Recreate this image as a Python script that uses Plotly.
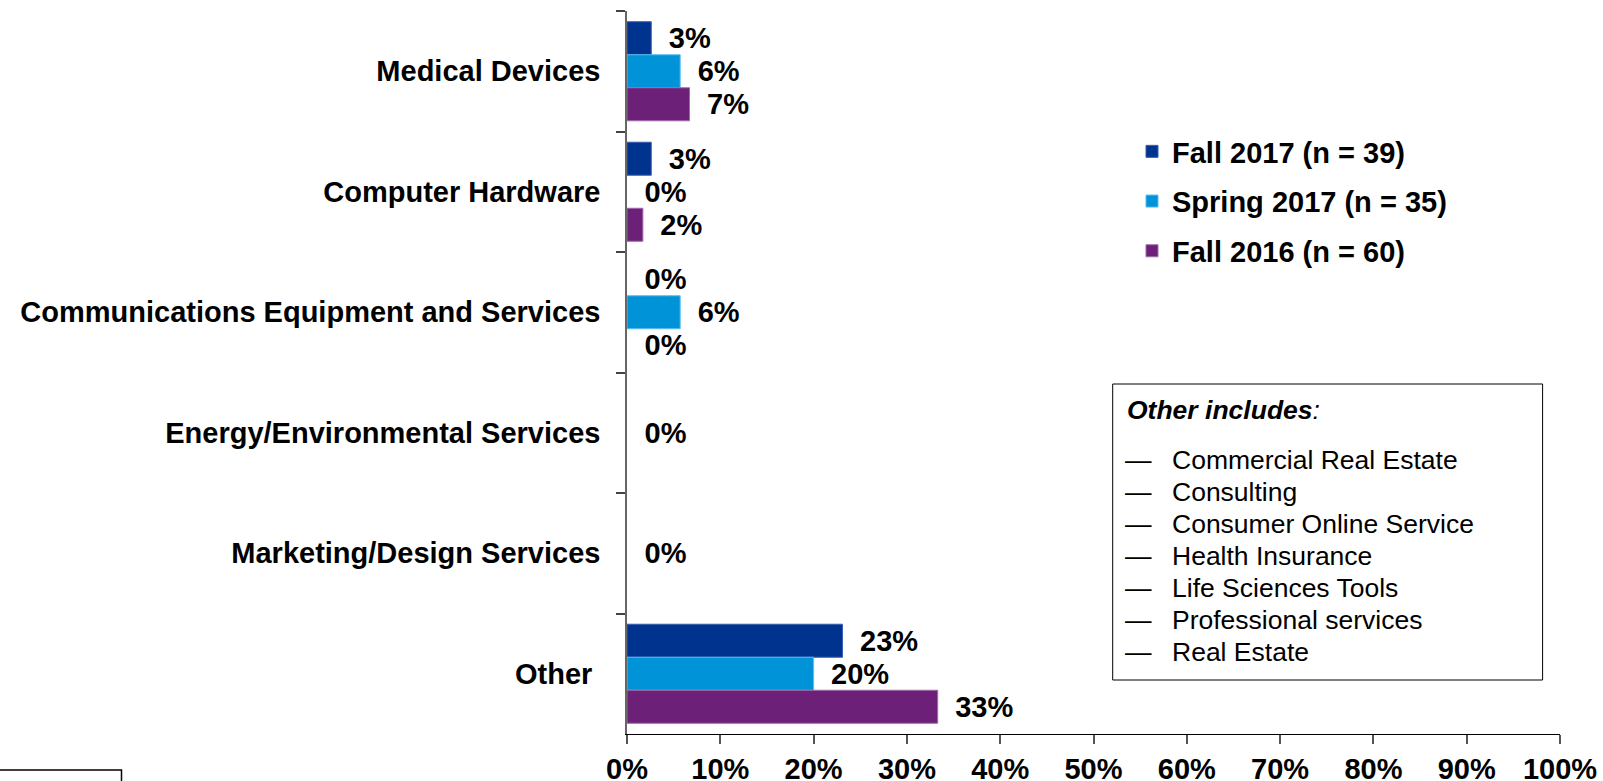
import plotly.graph_objects as go

# ---- data ----
categories = ["Medical Devices", "Computer Hardware", "Communications Equipment and Services",
              "Energy/Environmental Services", "Marketing/Design Services", "Other"]
series_names = ["Fall 2017 (n = 39)", "Spring 2017 (n = 35)", "Fall 2016 (n = 60)"]
fall_2017 = [2.6, 2.6, 0.0, None, None, 23.1]
spring_2017 = [5.7, 0.0, 5.7, 0.0, 0.0, 20.0]
fall_2016 = [6.7, 1.7, 0.0, None, None, 33.3]
series_values = [fall_2017, spring_2017, fall_2016]
series_colors = ["#00338D", "#0093D8", "#6D2077"]
series_edges = ["#3A5FAE", "#5CBDF0", "#A06AAA"]
x_tick_vals = [0, 10, 20, 30, 40, 50, 60, 70, 80, 90, 100]
x_tick_text = ["0%", "10%", "20%", "30%", "40%", "50%", "60%", "70%", "80%", "90%", "100%"]
other_title = "Other includes"
other_items = ["Commercial Real Estate", "Consulting", "Consumer Online Service", "Health Insurance",
               "Life Sciences Tools", "Professional services", "Real Estate"]

# ---- layout geometry (pixels) ----
W, H = 1603, 781
L, R, T, B = 627, 43, 11, 47
PW, PH = W - L - R, H - T - B
FONT = "Arial, Liberation Sans, sans-serif"
BIG = 29
SMALL = 26.5


def px(xp):
    return (xp - L) / PW


def py(yp):
    return (H - B - yp) / PH


cat_labels = {c: (c + "\u00a0" if c == "Other" else c) for c in categories}

fig = go.Figure()
for name, vals, col, edge in zip(series_names, series_values, series_colors, series_edges):
    text = ["" if v is None else "\u2002%d%%" % round(v) for v in vals]
    edge_w = [1 if (v is not None and v > 0) else 0 for v in vals]
    fig.add_trace(go.Bar(
        y=[cat_labels[c] for c in categories], x=vals,
        orientation="h", name=name, legendgroup=name,
        marker=dict(color=col, line=dict(color=edge, width=edge_w)),
        text=text, textposition="outside", cliponaxis=False, constraintext="none",
        textfont=dict(family=FONT, size=BIG, color="black", weight="bold"),
        hoverinfo="skip",
    ))

shapes = [
    dict(type="rect", xref="paper", yref="paper", x0=px(1112.7), x1=px(1542.6), y0=py(680), y1=py(384),
         line=dict(color="black", width=1), fillcolor="rgba(0,0,0,0)"),
    dict(type="rect", xref="paper", yref="paper", x0=px(-5), x1=px(121.5), y0=py(800), y1=py(770),
         line=dict(color="black", width=1.5), fillcolor="rgba(0,0,0,0)"),
]

annotations = [dict(xref="paper", yref="paper", x=px(1125), y=py(410), xanchor="left", yanchor="middle",
                    text="<b><i>%s</i></b><i>:</i>" % other_title, showarrow=False,
                    font=dict(family=FONT, size=SMALL, color="black"))]
for i, item in enumerate(other_items):
    yy = 460 + i * 32
    annotations.append(dict(xref="paper", yref="paper", x=px(1123), y=py(yy), xanchor="left", yanchor="middle",
                            text="\u2014", showarrow=False, font=dict(family=FONT, size=SMALL, color="black")))
    annotations.append(dict(xref="paper", yref="paper", x=px(1170), y=py(yy), xanchor="left", yanchor="middle",
                            text=item, showarrow=False, font=dict(family=FONT, size=SMALL, color="black")))

fig.update_layout(
    width=W, height=H,
    margin=dict(l=L, r=R, t=T, b=B, pad=0),
    paper_bgcolor="white", plot_bgcolor="white",
    barmode="group", bargap=0.178, bargroupgap=0,
    font=dict(family=FONT, size=BIG, color="black"),
    showlegend=True,
    legend=dict(x=px(1132), y=py(126), xanchor="left", yanchor="top",
                font=dict(family=FONT, size=BIG, color="black", weight="bold"),
                tracegroupgap=9, bgcolor="rgba(0,0,0,0)"),
    shapes=shapes, annotations=annotations,
    xaxis=dict(range=[0, 100], tickvals=x_tick_vals, ticktext=x_tick_text, showgrid=False, zeroline=False,
               showline=True, linecolor="black", linewidth=1, ticks="outside", ticklen=9, tickcolor="#555",
               tickwidth=1.5, tickfont=dict(family=FONT, size=BIG, color="black", weight="bold"),
               ticklabelstandoff=0, automargin=False),
    yaxis=dict(type="category", range=[5.5, -0.5], showgrid=False, zeroline=False,
               showline=True, linecolor="#666", linewidth=1.5, ticks="outside", ticklen=9, tickcolor="#444",
               tickwidth=1.5, tickson="boundaries", automargin=False,
               tickfont=dict(family=FONT, size=BIG, color="black", weight="bold"), ticklabelstandoff=19),
)

fig.write_html("out.html", config={"displayModeBar": False},
               post_script="document.body.style.margin='0';document.body.style.overflow='hidden';")
